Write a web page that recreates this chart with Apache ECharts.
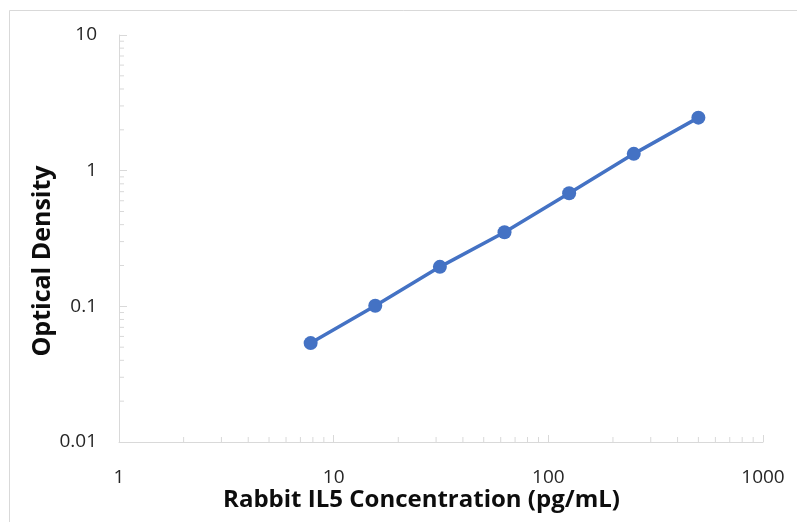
<!DOCTYPE html>
<html>
<head>
<meta charset="utf-8">
<script src="https://cdn.jsdelivr.net/npm/echarts@6/dist/echarts.min.js"></script>
<style>
html,body{margin:0;padding:0;background:#fff;}
#chart{width:797px;height:522px;}
</style>
</head>
<body>
<div id="chart"></div>
<script>
// Data
const concentrations = [7.8125, 15.625, 31.25, 62.5, 125, 250, 500];
const opticalDensity = [0.0536, 0.101, 0.1955, 0.352, 0.682, 1.33, 2.46];
const xAxisRange = [1, 1000];
const yAxisRange = [0.01, 10];
const minorMultipliers = [2, 3, 4, 5, 6, 7, 8, 9];
const xDecades = [1, 10, 100];
const yDecades = [0.01, 0.1, 1];
const xTitle = 'Rabbit IL5 Concentration (pg/mL)';
const yTitle = 'Optical Density';

const xMinor = [];
xDecades.forEach(d => minorMultipliers.forEach(m => xMinor.push([+(d * m).toPrecision(6), yAxisRange[0]])));
const yMinor = [];
yDecades.forEach(d => minorMultipliers.forEach(m => yMinor.push([xAxisRange[0], +(d * m).toPrecision(6)])));

const FONT = 'Open Sans';
const axisColor = '#d9d9d9';
const labelColor = '#262626';
const fmt = v => String(+Number(v).toPrecision(6));

const chart = echarts.init(document.getElementById('chart'), null, {renderer: 'canvas'});
chart.setOption({
  animation: false,
  backgroundColor: '#fff',
  graphic: [
    {
      type: 'rect', left: 7, top: 8, silent: true,
      shape: {width: 820, height: 540},
      style: {fill: 'none', stroke: '#d9d9d9', lineWidth: 1}
    },
    {
      type: 'text', x: 421.5, y: 500, silent: true,
      style: {text: xTitle, fontFamily: FONT, fontWeight: 'bold', fontSize: 24, fill: '#0d0d0d',
        align: 'center', verticalAlign: 'middle'}
    },
    {
      type: 'text', x: 43, y: 261, rotation: Math.PI / 2, silent: true,
      style: {text: yTitle, fontFamily: FONT, fontWeight: 'bold', fontSize: 25, fill: '#0d0d0d',
        align: 'center', verticalAlign: 'middle'}
    }
  ],
  grid: {left: 119, top: 35, width: 644, height: 407, containLabel: false},
  xAxis: {
    type: 'log', logBase: 10, min: xAxisRange[0], max: xAxisRange[1],
    axisLine: {show: true, lineStyle: {color: axisColor, width: 1}},
    axisTick: {show: true, inside: true, length: 7, lineStyle: {color: axisColor}},
    axisLabel: {fontFamily: FONT, fontSize: 19, color: labelColor, margin: 26, formatter: fmt},
    splitLine: {show: false},
    minorTick: {show: false}
  },
  yAxis: {
    type: 'log', logBase: 10, min: yAxisRange[0], max: yAxisRange[1],
    axisLine: {show: true, lineStyle: {color: axisColor, width: 1}},
    axisTick: {show: true, inside: true, length: 8, lineStyle: {color: axisColor}},
    axisLabel: {fontFamily: FONT, fontSize: 19, color: labelColor, margin: 22, formatter: fmt},
    splitLine: {show: false},
    minorTick: {show: false}
  },
  series: [
    {
      type: 'custom', silent: true, clip: false, z: 1,
      data: xMinor,
      renderItem: (params, api) => {
        const p = api.coord([api.value(0), api.value(1)]);
        return {type: 'line', shape: {x1: p[0], y1: p[1], x2: p[0], y2: p[1] - 5},
          style: {stroke: axisColor, lineWidth: 1}};
      }
    },
    {
      type: 'custom', silent: true, clip: false, z: 1,
      data: yMinor,
      renderItem: (params, api) => {
        const p = api.coord([api.value(0), api.value(1)]);
        return {type: 'line', shape: {x1: p[0], y1: p[1], x2: p[0] + 5, y2: p[1]},
          style: {stroke: axisColor, lineWidth: 1}};
      }
    },
    {
      type: 'line', z: 3,
      data: concentrations.map((c, i) => [c, opticalDensity[i]]),
      symbol: 'circle', symbolSize: 14,
      lineStyle: {color: '#4472C4', width: 3.5},
      itemStyle: {color: '#4472C4'}
    }
  ]
});
</script>
</body>
</html>
